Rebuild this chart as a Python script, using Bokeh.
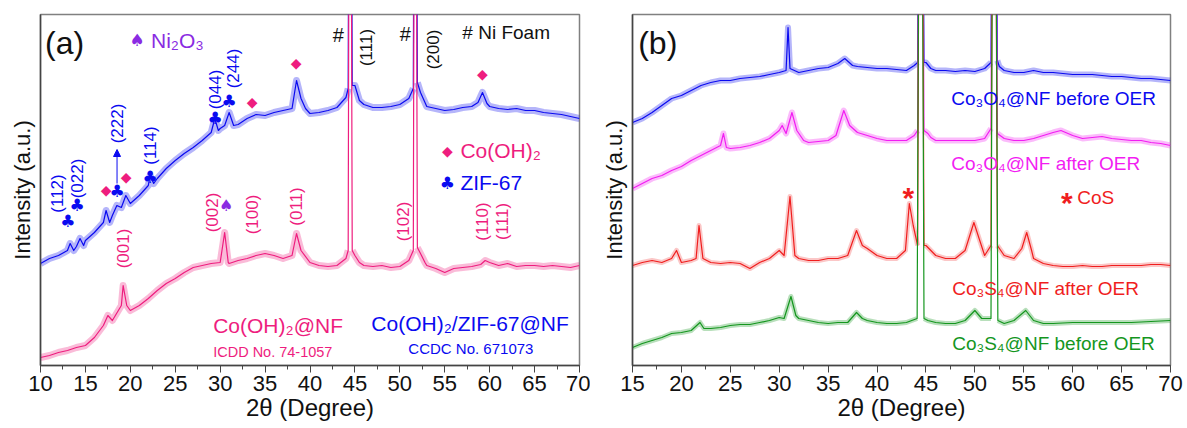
from bokeh.plotting import figure
from bokeh.layouts import row
from bokeh.models import Label, Arrow, NormalHead, SingleIntervalTicker, FixedTicker
from bokeh.embed import file_html
from bokeh.resources import INLINE

FONT = "Liberation Sans"
SYM = "DejaVu Sans"

# ---------------- panel (a) data (2theta in degree, intensity in a.u.) ----------------
a_zif_x = [10, 11, 12, 13, 13.3, 13.7, 14, 14.4, 14.8, 15, 16, 17, 17.3, 17.7, 18, 18.5, 19, 19.5, 20,
           21, 22, 22.2, 22.6, 23, 24, 25, 26, 27, 28, 29, 29.4, 29.8, 30, 30.5, 31, 31.5, 32, 33, 34,
           35, 36, 37, 38, 38.5, 39, 39.5, 40, 41, 42, 43, 44, 44.25, 44.45, 44.7, 45, 45.5, 46, 47,
           48, 49, 50, 51, 51.5, 51.7, 51.95, 52.3, 52.7, 53, 54, 55, 56, 57, 58, 58.7, 59.2, 59.7,
           60, 61, 62, 63, 64, 65, 66, 67, 68, 69, 70]
a_zif_y = [102, 107, 110, 115, 122, 115, 119, 127, 120, 125, 133, 143, 155, 143, 150, 160, 158, 170, 162,
           170, 180, 190, 182, 187, 197, 205, 212, 218, 225, 233, 247, 235, 237, 240, 253, 240, 241, 247, 251,
           250, 253, 255, 257, 285, 267, 257, 252, 253, 255, 258, 268, 277, 900, 280, 280, 265, 261, 258,
           258, 259, 261, 267, 277, 900, 283, 273, 265, 259, 257, 255, 256, 258, 259, 263, 273, 262,
           259, 257, 256, 257, 255, 255, 253, 252, 251, 249, 247]

a_coh_x = [10, 11, 12, 13, 14, 15, 16, 17, 17.5, 18, 19, 19.2, 19.6, 20, 21, 22, 23, 24, 25, 26, 27, 28,
           29, 30, 30.5, 30.9, 31, 32, 33, 34, 35, 36, 37, 38, 38.5, 39, 40, 41, 42, 43, 44, 44.25, 44.45,
           44.7, 45, 45.5, 46, 47, 48, 49, 50, 51, 51.5, 51.7, 51.95, 52.3, 52.8, 53, 54, 55, 56, 57, 58,
           59, 59.5, 60, 61, 62, 63, 64, 65, 66, 67, 68, 69, 70]
a_coh_y = [8, 10, 13, 15, 18, 20, 28, 40, 50, 45, 60, 80, 60, 55, 60, 67, 75, 82, 87, 93, 98, 100,
           102, 103, 133, 103, 102, 105, 107, 110, 112, 110, 107, 110, 132, 115, 103, 100, 99, 100, 107, 115, 900,
           115, 110, 103, 100, 99, 100, 98, 99, 105, 115, 900, 118, 112, 103, 100, 97, 93, 97, 98, 99,
           101, 105, 103, 100, 102, 99, 100, 100, 99, 100, 99, 98, 100]

# ---------------- panel (b) data ----------------
b_o4_before_x = [15, 16, 17, 18, 19, 20, 21, 22, 23, 24, 25, 26, 27, 28, 29, 30, 30.7, 30.9, 31.1, 32, 33,
                 34, 35, 36, 36.7, 37.5, 38, 39, 40, 41, 42, 43, 43.8, 44.15, 44.45, 44.8, 45, 45.5, 46, 47,
                 48, 49, 50, 51, 51.65, 51.95, 52.3, 52.5, 53, 54, 55, 56, 57, 58, 59, 60, 61, 62, 63,
                 64, 65, 66, 67, 68, 69, 70]
b_o4_before_y = [243, 247, 253, 260, 267, 270, 275, 280, 283, 285, 285, 287, 288, 289, 291, 293, 295, 338, 297, 293, 295,
                 297, 298, 302, 307, 300, 299, 298, 297, 297, 296, 295, 300, 303, 900, 303, 303, 297, 295, 295,
                 294, 295, 294, 297, 303, 900, 305, 299, 295, 293, 293, 295, 293, 293, 292, 291, 291, 291, 290,
                 289, 289, 288, 287, 287, 286, 285]

b_o4_after_x = [15, 16, 17, 18, 19, 20, 21, 22, 23, 24, 24.3, 24.6, 25, 26, 27, 28, 29, 30, 30.3, 30.7, 31.3,
                31.8, 32.5, 33, 34, 35, 35.8, 36.6, 37.2, 38, 39, 40, 41, 42, 43, 43.8, 44.15, 44.45, 44.8,
                45.2, 45.5, 46, 47, 48, 49, 50, 51, 51.65, 51.95, 52.3, 53, 54, 55, 56, 57, 58, 58.8, 60,
                61, 62, 63, 64, 65, 66, 67, 68, 69, 70]
b_o4_after_y = [177, 182, 187, 190, 195, 199, 205, 210, 215, 220, 232, 218, 217, 218, 220, 223, 227, 235, 240, 232, 253,
                235, 225, 223, 224, 225, 230, 255, 240, 233, 230, 227, 225, 225, 225, 230, 235, 900, 235,
                232, 228, 225, 225, 225, 225, 225, 227, 237, 900, 232, 227, 225, 225, 227, 230, 233, 235, 230,
                227, 228, 229, 227, 226, 225, 225, 223, 222, 220]

b_s4_after_x = [15, 16, 17, 18, 19, 19.5, 20, 21, 21.5, 21.8, 22.2, 23, 24, 25, 26, 27, 28, 29, 30, 30.5, 31.1,
                31.6, 32, 33, 34, 35, 36, 37, 37.9, 38.5, 39, 40, 41, 42, 42.9, 43.3, 43.7, 44.15, 44.45,
                44.8, 45, 45.5, 46, 47, 48, 49, 49.9, 50.5, 51, 51.65, 51.95, 52.3, 53, 54, 54.8, 55.3, 55.8,
                56, 57, 58, 59, 60, 61, 62, 63, 64, 65, 66, 67, 68, 69, 70]
b_s4_after_y = [100, 103, 105, 103, 107, 115, 103, 105, 107, 140, 107, 103, 102, 103, 102, 97, 103, 107, 115, 110, 169,
                110, 107, 105, 105, 107, 107, 110, 135, 120, 117, 110, 107, 107, 115, 162, 140, 120, 900,
                120, 120, 115, 110, 107, 107, 115, 143, 125, 110, 120, 900, 120, 110, 107, 117, 133, 115,
                107, 102, 100, 99, 99, 100, 99, 99, 100, 100, 100, 100, 101, 101, 100]

b_s4_before_x = [15, 16, 17, 18, 19, 20, 21, 21.9, 22.3, 23, 24, 25, 26, 27, 28, 29, 30, 30.5, 31.2, 31.7, 32,
                 33, 34, 35, 36, 37, 37.9, 38.5, 39, 40, 41, 42, 43, 44.1, 44.45, 44.8, 45.2, 46, 47, 48, 49,
                 50, 50.7, 51.65, 51.95, 52.35, 53, 54, 55.2, 56, 57, 58, 60, 62, 64, 66, 68, 70]
b_s4_before_y = [18, 22, 25, 28, 32, 33, 35, 43, 37, 37, 38, 40, 41, 41, 43, 45, 48, 47, 69, 50, 47,
                 45, 43, 42, 43, 43, 53, 47, 45, 43, 42, 42, 43, 47, 900, 47, 45, 43, 42, 42, 45,
                 55, 47, 47, 900, 45, 42, 45, 55, 45, 42, 42, 43, 43, 43, 43, 44, 45]

# ---------------- colours ----------------
BLUE = "#0a0af0"
PINK = "#ee1d7e"
PURPLE = "#8a2be2"
MAGENTA = "#f21df2"
RED = "#f01e1e"
GREEN = "#14961e"


def make_fig(xr, width, left, right):
    p = figure(width=width, height=428, x_range=xr, y_range=(0, 351),
               output_backend="svg", toolbar_location=None,
               min_border_left=left, min_border_right=right,
               min_border_top=14, min_border_bottom=63,
               background_fill_color="white", border_fill_color="white")
    p.grid.visible = False
    p.outline_line_color = "#808080"
    p.outline_line_width = 1.5
    xa = p.xaxis[0]
    xa.ticker = SingleIntervalTicker(interval=5, num_minor_ticks=2)
    xa.axis_label = "2θ (Degree)"
    xa.axis_label_text_font = FONT
    xa.axis_label_text_font_size = "24px"
    xa.axis_label_text_font_style = "normal"
    xa.axis_label_text_color = "#111111"
    xa.axis_label_standoff = 0
    xa.major_label_text_font = FONT
    xa.major_label_text_font_size = "22px"
    xa.major_label_text_color = "#111111"
    xa.major_label_standoff = 3
    xa.major_tick_in = 0
    xa.major_tick_out = 7
    xa.minor_tick_in = 0
    xa.minor_tick_out = 4
    xa.axis_line_color = "#444444"
    xa.axis_line_width = 1.5
    xa.major_tick_line_color = "#444444"
    xa.minor_tick_line_color = "#444444"
    ya = p.yaxis[0]
    ya.ticker = FixedTicker(ticks=[])
    ya.axis_label = "Intensity (a.u.)"
    ya.axis_label_text_font = FONT
    ya.axis_label_text_font_size = "22px"
    ya.axis_label_text_font_style = "normal"
    ya.axis_label_text_color = "#111111"
    ya.axis_label_standoff = 6
    ya.major_tick_line_color = None
    ya.minor_tick_line_color = None
    ya.major_label_text_font_size = "0px"
    ya.axis_line_color = "#444444"
    ya.axis_line_width = 1.5
    return p


def trace(p, xs, ys, color, band=6, alpha=0.3):
    # wide faint band imitates the scan noise; it is left out on the off-scale Ni peaks
    band_y = [v if v < 351 else float("nan") for v in ys]
    p.line(xs, band_y, line_color=color, line_width=band, line_alpha=alpha, line_join="round")
    p.line(xs, ys, line_color=color, line_width=1.2, line_join="round")


def lab(p, x, y, text, color, size, font=FONT, angle=0, align="left", baseline="middle", style="normal"):
    p.add_layout(Label(x=x, y=y, text=text, text_color=color, text_font=font,
                       text_font_size=size, angle=angle, angle_units="deg",
                       text_align=align, text_baseline=baseline, text_font_style=style))


# ======================= panel (a) =======================
pa = make_fig((10, 70), 590, 40, 11)
trace(pa, a_zif_x, a_zif_y, BLUE, band=7, alpha=0.3)
trace(pa, a_coh_x, a_coh_y, PINK, band=7, alpha=0.3)

lab(pa, 10.5, 323, "(a)", "#111111", "32px")
lab(pa, 20.75, 326, "♠", PURPLE, "17px", font=SYM, align="center")
lab(pa, 22.3, 325, "Ni₂O₃", PURPLE, "21px")

# ZIF-67 reflections (blue)
for t, x, y in [("(112)", 11.84, 172), ("(022)", 14.07, 187), ("(222)", 18.52, 242),
                ("(114)", 22.2, 220), ("(044)", 29.44, 276), ("(244)", 31.45, 297)]:
    lab(pa, x, y, t, BLUE, "17px", angle=90, align="center")
for x, y in [(13.06, 145), (14.07, 161), (18.52, 175), (22.2, 189), (29.44, 248), (31.0, 265)]:
    lab(pa, x, y, "♣", BLUE, "17px", font=SYM, align="center")
pa.add_layout(Arrow(end=NormalHead(size=7, fill_color=BLUE, line_color=BLUE),
                    x_start=18.52, y_start=182, x_end=18.52, y_end=216,
                    line_color=BLUE, line_width=1))

# Co(OH)2 markers (pink diamonds)
for x, y in [(17.3, 176), (19.53, 189), (33.57, 264), (38.47, 303), (59.18, 292)]:
    lab(pa, x, y, "◆", PINK, "14px", font=SYM, align="center")

# Ni foam
lab(pa, 43.15, 331, "#", "#111111", "20px", align="center")
lab(pa, 50.6, 332, "#", "#111111", "20px", align="center")
lab(pa, 46.27, 318, "(111)", "#111111", "17px", angle=90, align="center")
lab(pa, 53.73, 316, "(200)", "#111111", "17px", angle=90, align="center")
lab(pa, 56.96, 333, "# Ni Foam", "#111111", "19px")

# legend-like symbols
lab(pa, 55.28, 215, "◆", PINK, "14px", font=SYM, align="center")
lab(pa, 56.74, 215, "Co(OH)₂", PINK, "21px")
lab(pa, 55.28, 183, "♣", BLUE, "17px", font=SYM, align="center")
lab(pa, 56.74, 183, "ZIF-67", BLUE, "21px")

# Co(OH)2 reflections (pink)
for t, x, y in [("(001)", 19.19, 117), ("(002)", 29.1, 153), ("(100)", 33.57, 151),
                ("(011)", 38.47, 159), ("(102)", 50.39, 144), ("(110)", 59.2, 144),
                ("(111)", 61.42, 144)]:
    lab(pa, x, y, t, PINK, "17px", angle=90, align="center")
lab(pa, 30.67, 160, "♠", PURPLE, "16px", font=SYM, align="center")

lab(pa, 29.22, 40, "Co(OH)₂@NF", PINK, "21px")
lab(pa, 29.22, 14, "ICDD No. 74-1057", PINK, "14.5px")
lab(pa, 46.83, 42, "Co(OH)₂/ZIF-67@NF", BLUE, "21px")
lab(pa, 50.95, 17, "CCDC No. 671073", BLUE, "15px")

# ======================= panel (b) =======================
pb = make_fig((15, 70), 597, 42, 17)
trace(pb, b_o4_before_x, b_o4_before_y, BLUE, band=6, alpha=0.3)
trace(pb, b_o4_after_x, b_o4_after_y, MAGENTA, band=6, alpha=0.3)
trace(pb, b_s4_after_x, b_s4_after_y, RED, band=5, alpha=0.25)
trace(pb, b_s4_before_x, b_s4_before_y, GREEN, band=5, alpha=0.3)

lab(pb, 15.58, 323, "(b)", "#111111", "32px")
lab(pb, 47.58, 267, "Co₃O₄@NF before OER", BLUE, "19px")
lab(pb, 47.58, 202, "Co₃O₄@NF after OER", MAGENTA, "19px")
lab(pb, 43.21, 168, "*", RED, "30px", align="center", baseline="alphabetic", style="bold")
lab(pb, 59.4, 163, "*", RED, "30px", align="center", baseline="alphabetic", style="bold")
lab(pb, 60.46, 168, "CoS", RED, "19px")
lab(pb, 47.68, 77, "Co₃S₄@NF after OER", RED, "19px")
lab(pb, 47.68, 22, "Co₃S₄@NF before OER", GREEN, "19px")

layout = row(pa, pb, spacing=0)
open("out.html", "w").write(file_html(layout, INLINE))
